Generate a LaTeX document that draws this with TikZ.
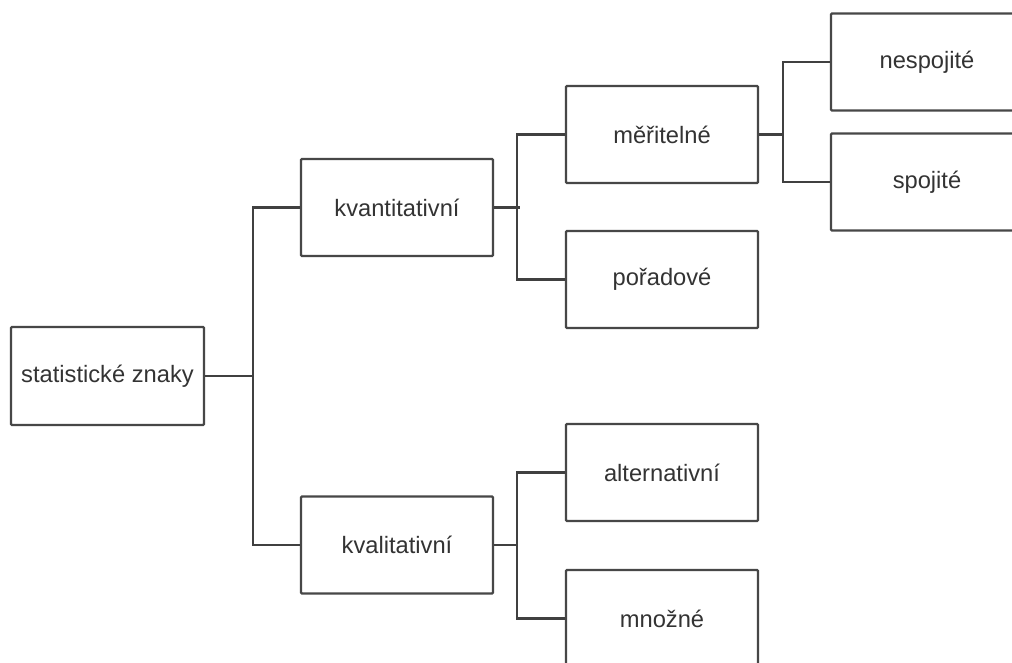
\documentclass[tikz,border=0pt]{standalone}
\usepackage{fontspec}
\setmainfont{Liberation Sans}
\begin{document}
\begin{tikzpicture}[x=1pt,y=-1pt,
  box/.style={draw=black!72, line width=2.4pt, fill=white, rounded corners=1pt,
    minimum width=192pt, minimum height=97pt, inner sep=0pt,
    text=black!80, font=\fontsize{23.7}{28}\selectfont},
  conn/.style={draw=black!75, line width=2.2pt}]
\useasboundingbox (0,0) rectangle (1012,663);
\clip (0,0) rectangle (1012,663);
\fill[white] (0,0) rectangle (1012,663);
\node[box, minimum width=193pt, minimum height=98pt] (root) at (107.5,376) {statistické znaky};
\node[box] (kvant) at (397,207.5) {kvantitativní};
\node[box] (kval) at (397,545) {kvalitativní};
\node[box] (mer) at (662,134.5) {měřitelné};
\node[box] (por) at (662,279.5) {pořadové};
\node[box] (alt) at (662,472.5) {alternativní};
\node[box] (mno) at (662,618.5) {množné};
\node[box] (nesp) at (927,62) {nespojité};
\node[box] (spoj) at (927,182) {spojité};
\coordinate (j1) at (253,376);
\coordinate (j2) at (517,207.5);
\coordinate (j2e) at (520,207.5);
\coordinate (j3) at (517,545);
\coordinate (j4) at (783,134.5);
\draw[conn] (root.east) -- (j1);
\draw[conn] (kvant.west) -| (j1) |- (kval.west);
\draw[conn] (kvant.east) -- (j2e);
\draw[conn] (mer.west) -| (j2) |- (por.west);
\draw[conn] (kval.east) -- (j3);
\draw[conn] (alt.west) -| (j3) |- (mno.west);
\draw[conn] (mer.east) -- (j4);
\draw[conn] (nesp.west) -| (j4) |- (spoj.west);
\end{tikzpicture}
\end{document}
